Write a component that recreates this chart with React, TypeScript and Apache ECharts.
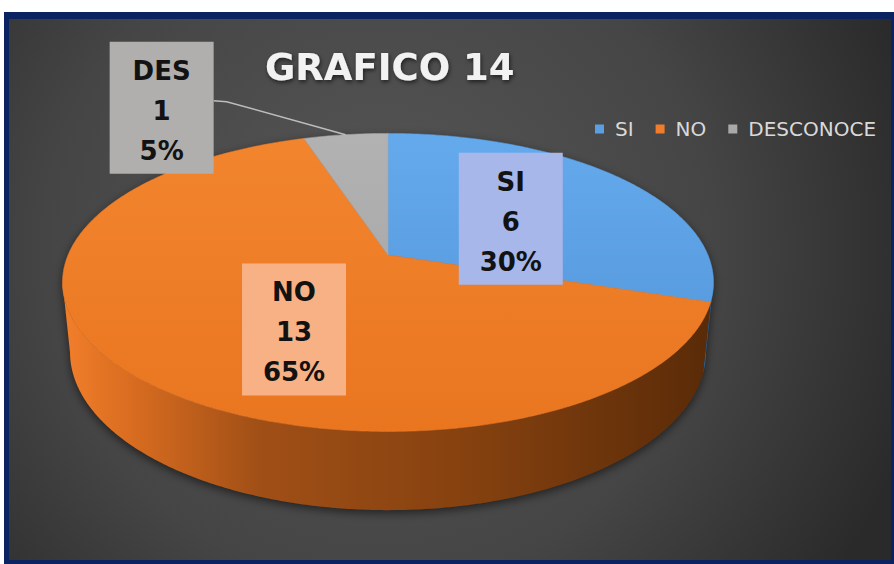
import React, { useEffect, useRef } from "react";
import * as echarts from "echarts";

// ---- data ----
const NAMES = ["SI", "NO", "DESCONOCE"];
const SHORT_NAMES = ["SI", "NO", "DES"];
const VALUES = [6, 13, 1];
const TITLE = "GRAFICO 14";

// ---- styling ----
const TOP_COLORS = ["#5a9fe2", "#f07d2b", "#a9a9a9"];
const TOP_GRAD = [
  ["#66aaee", "#4f93d6"],
  ["#f3852f", "#e9751f"],
  ["#b2b2b2", "#a2a2a2"],
];
const WALL_STOPS = [
  ["#4a86c4", "#2e5f8f"],
  ["#f07d2a", "#d86c20", "#a04f16", "#83400f", "#5a2b08"],
  ["#8a8a8a", "#6a6a6a"],
];
const LABEL_BG = ["#a7b7e9", "#f7b184", "#b1aeae"];
const LABEL_RADIUS = [0.5, 0.5, 1.0];
const LABEL_SHIFT = [
  [0, 7],
  [27, 23],
  [-184, -24],
];

// ---- 3D projection geometry ----
const CX = 388;
const CY = 255;
const FOCAL = 1553;
const RAD = 0.206;
const HEIGHT = 0.0505;
const SIN_T = 0.45;
const COS_T = 0.893;
const VIS0 = (Math.acos(-RAD * COS_T) * 180) / Math.PI; // near-side silhouette
const VIS1 = 360 - VIS0;

const TOTAL = VALUES.reduce((a, b) => a + b, 0);

function proj(deg: number, r: number, y: number): number[] {
  const t = (deg * Math.PI) / 180;
  const X = r * RAD * Math.sin(t);
  const Z = r * RAD * Math.cos(t);
  const zc = 1 + Z * COS_T - y * SIN_T;
  const yc = Z * SIN_T + y * COS_T;
  return [CX + (FOCAL * X) / zc, CY - (FOCAL * yc) / zc];
}

function arc(a0: number, a1: number, r: number, y: number): number[][] {
  const n = Math.max(2, Math.ceil(Math.abs(a1 - a0) / 0.5));
  const pts: number[][] = [];
  for (let k = 0; k <= n; k++) pts.push(proj(a0 + ((a1 - a0) * k) / n, r, y));
  return pts;
}

function renderSlice(params: any, api: any) {
  const i = params.seriesIndex;
  const v = api.value(0);
  const start = (VALUES.slice(0, i).reduce((a, b) => a + b, 0) / TOTAL) * 360;
  const end = start + (v / TOTAL) * 360;
  const children: any[] = [];

  if (i === 0) {
    // silhouette for shadow
    const sil = arc(VIS1, 360 + VIS0, 1, 0).concat(arc(VIS0, VIS1, 1, -HEIGHT));
    children.push({
      type: "polygon",
      shape: { points: sil },
      style: {
        fill: "#3a2a20",
        shadowBlur: 10,
        shadowColor: "rgba(0,0,0,0.55)",
        shadowOffsetY: 3,
      },
      z2: 0,
    });
  }

  const a0 = Math.max(start, VIS0);
  const a1 = Math.min(end, VIS1);
  if (a1 > a0) {
    const pts = arc(a0, a1, 1, 0).concat(arc(a1, a0, 1, -HEIGHT));
    const stops = WALL_STOPS[i];
    const offs = stops.length === 5 ? [0, 0.1, 0.3, 0.65, 1] : [0, 1];
    children.push({
      type: "polygon",
      shape: { points: pts },
      style: {
        fill: new echarts.graphic.LinearGradient(
          CX - FOCAL * RAD,
          0,
          CX + FOCAL * RAD,
          0,
          stops.map((c, k) => ({ offset: offs[k], color: c })),
          true
        ),
      },
      z2: 1,
    });
  }

  const top = [proj(0, 0, 0)].concat(arc(start, end, 1, 0));
  const topFill = new echarts.graphic.LinearGradient(
    0,
    CY - 125,
    0,
    CY + 180,
    [
      { offset: 0, color: TOP_GRAD[i][0] },
      { offset: 1, color: TOP_GRAD[i][1] },
    ],
    true
  );
  children.push({
    type: "polygon",
    shape: { points: top },
    style: { fill: topFill, stroke: TOP_COLORS[i], lineWidth: 0.6 },
    z2: 10,
  });

  // label
  const mid = (start + end) / 2;
  const anchor = proj(mid, LABEL_RADIUS[i], 0);
  const tx = anchor[0] + LABEL_SHIFT[i][0];
  const ty = anchor[1] + LABEL_SHIFT[i][1];
  const pct = Math.round((v / TOTAL) * 100) + "%";
  const bw = 104;
  const bh = 132;
  if (LABEL_RADIUS[i] >= 1) {
    const rim = proj(mid, 1, 0);
    children.push({
      type: "polyline",
      shape: {
        points: [rim, [tx + bw / 2 + 13, ty - 9], [tx + bw / 2, ty - 10]],
      },
      style: { stroke: "#bdbdbd", lineWidth: 1.5, fill: null },
      z2: 98,
    });
  }
  children.push({
    type: "rect",
    shape: { x: tx - bw / 2, y: ty - bh / 2 - 3, width: bw, height: bh },
    style: { fill: LABEL_BG[i] },
    z2: 99,
  });
  children.push({
    type: "text",
    x: tx,
    y: ty,
    style: {
      text: SHORT_NAMES[i] + "\n" + v + "\n" + pct,
      font: 'bold 26px "DejaVu Sans"',
      fill: "#121212",
      align: "center",
      verticalAlign: "middle",
      lineHeight: 40,
    },
    z2: 100,
  });

  return { type: "group", children };
}

export default function App() {
  const ref = useRef<HTMLDivElement>(null);

  useEffect(() => {
    if (!ref.current) return;
    const chart = echarts.init(ref.current, null, { renderer: "svg" });
    const bg = new echarts.graphic.RadialGradient(
      380,
      250,
      560,
      [
        { offset: 0, color: "#575757" },
        { offset: 0.6, color: "#454545" },
        { offset: 1, color: "#2a2a2a" },
      ],
      true
    );
    chart.setOption({
      animation: false,
      backgroundColor: "#ffffff",
      graphic: [
        {
          type: "rect",
          shape: { x: 4, y: 12, width: 890, height: 552 },
          style: { fill: "#0b2461" },
          z: -10,
        },
        {
          type: "rect",
          shape: { x: 9, y: 19, width: 882, height: 541 },
          style: { fill: bg },
          z: -9,
        },
        {
          type: "text",
          x: 265,
          y: 67,
          style: {
            text: TITLE,
            font: 'bold 37px "DejaVu Sans"',
            fill: "#f2f2f2",
            verticalAlign: "middle",
            textShadowColor: "rgba(0,0,0,0.6)",
            textShadowBlur: 4,
            textShadowOffsetX: 1,
            textShadowOffsetY: 2,
          },
          z: 5,
        },
      ],
      legend: {
        data: NAMES,
        left: 590,
        top: 114,
        itemWidth: 9,
        itemHeight: 9,
        itemGap: 22,
        icon: "rect",
        textStyle: {
          color: "#d9d9d9",
          fontSize: 20,
          fontFamily: "DejaVu Sans",
          padding: [0, 0, 0, 6],
        },
      },
      series: NAMES.map((name, i) => ({
        type: "custom",
        name,
        coordinateSystem: "none",
        itemStyle: { color: TOP_COLORS[i] },
        data: [[VALUES[i]]],
        renderItem: renderSlice,
        silent: true,
      })),
    });
    return () => chart.dispose();
  }, []);

  return (
    <div
      ref={ref}
      style={{ position: "fixed", left: 0, top: 0, width: 894, height: 564 }}
    />
  );
}
